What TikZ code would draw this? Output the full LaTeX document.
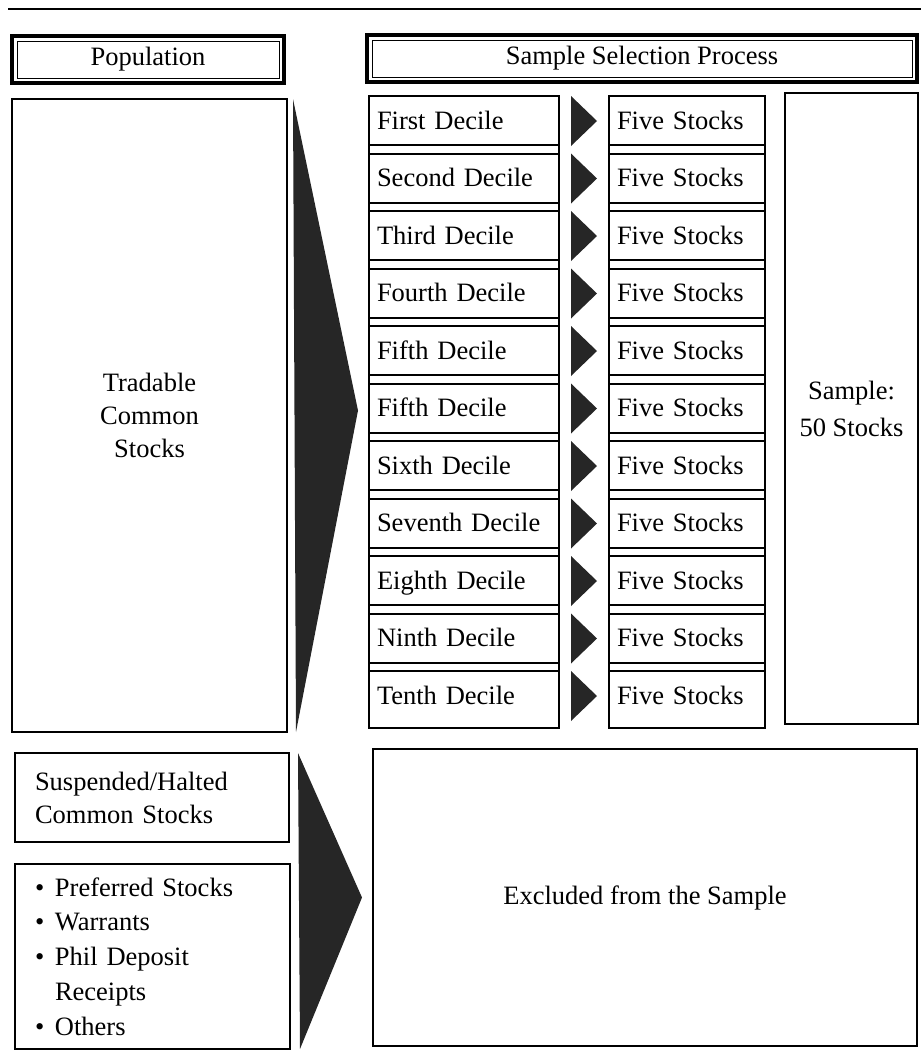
\documentclass[tikz,border=0pt]{standalone}
\usepackage{fontspec}
\setmainfont{Liberation Serif}
\usetikzlibrary{positioning}

\newcommand{\bul}{\makebox[20pt][l]{\textbullet}}

\begin{document}
\begin{tikzpicture}[x=1pt, y=-1pt, font=\fontsize{26.5}{33}\selectfont,
	frame/.style={draw, line width=2pt, inner sep=0pt, outer sep=0pt, anchor=north west},
	cell/.style={frame, minimum height=49pt, text height=20pt, text depth=3pt, align=left, inner xsep=8pt},
	lastcell/.style={minimum height=57pt, text depth=11pt},
	header/.style={draw, line width=3.5pt, outer sep=0pt, anchor=north west, minimum height=47pt},
	pointer/.style={fill=black!85, draw=none}]
	\useasboundingbox (0,0) rectangle (921,1053);

	%rule over the figure
	\draw[line width=2pt] (8,9) -- (921,9);

	%column headers, double border
	\node[header, minimum width=272pt] (pop) at (12,36) {Population};
	\node[header, minimum width=550pt] (ssp) at (367,35) {Sample Selection Process};
	\draw[line width=1pt] ([shift={(5,5)}]pop.north west) rectangle ([shift={(-5,-5)}]pop.south east);
	\draw[line width=1pt] ([shift={(5,5)}]ssp.north west) rectangle ([shift={(-5,-5)}]ssp.south east);

	%population of tradable stocks
	\node[frame, minimum width=275pt, minimum height=633pt, align=center] (trad) at (12,99) {Tradable\\Common\\Stocks};
	\fill[pointer] ([xshift=6pt]trad.north east) -- ([shift={(71,-5)}]trad.east) -- ([xshift=9pt]trad.south east) -- cycle;

	%deciles, five stocks drawn from each
	\foreach \name/\extra [count=\i] in {First/,Second/,Third/,Fourth/,Fifth/,Fifth/,Sixth/,Seventh/,Eighth/,Ninth/,Tenth/lastcell} {
		\node[cell, \extra, text width=174pt] (dec\i) at (369,{96+57.5*(\i-1)}) {\name{} Decile};
		\node[cell, \extra, text width=140pt] (five\i) at (609,{96+57.5*(\i-1)}) {Five Stocks};
		\fill[pointer] ([xshift=12pt]dec\i.north east) -- ++(26,25) -- ++(-26,25) -- cycle;
	}
	\draw[line width=2pt] (dec1.north west) rectangle (dec11.south east);
	\draw[line width=2pt] (five1.north west) rectangle (five11.south east);

	%the sample
	\node[frame, minimum width=133pt, minimum height=631pt, align=center] (samp) at (785,93) {Sample:\\[4pt]50 Stocks};

	%stocks left out
	\node[frame, minimum width=274pt, minimum height=89pt, text width=234pt, inner xsep=20pt, align=left] (susp) at (15,753) {Suspended/Halted\\Common Stocks};
	\node[frame, minimum width=275pt, minimum height=185pt, text width=235pt, inner xsep=20pt, align=left, font=\fontsize{26.5}{34.75}\selectfont] (other) at (15,864) {\bul Preferred Stocks\\ \bul Warrants\\ \bul Phil Deposit\\ \hphantom{\bul}Receipts\\ \bul Others};
	\node[frame, minimum width=544pt, minimum height=297pt] (excl) at (373,749) {Excluded from the Sample};
	\fill[pointer] ([xshift=9pt]susp.north east) -- ([xshift=-11pt]excl.west) -- ([xshift=10pt]other.south east) -- cycle;

\end{tikzpicture}
\end{document}
